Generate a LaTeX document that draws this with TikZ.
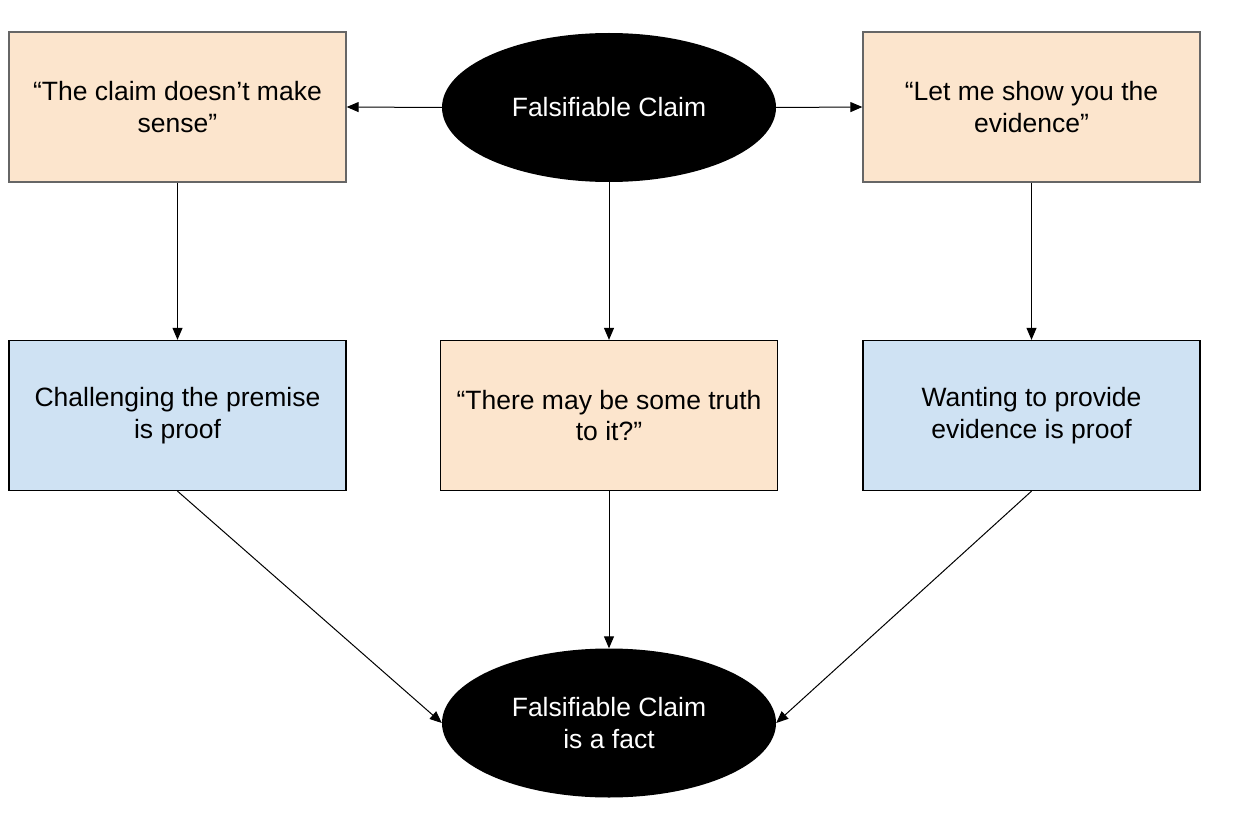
\documentclass[tikz,border=0pt]{standalone}
\usepackage{fontspec}
\setmainfont{Liberation Sans}
\usetikzlibrary{arrows.meta,shapes.geometric}
\definecolor{peach}{HTML}{FCE5CD}
\definecolor{lblue}{HTML}{CFE2F3}
\definecolor{gborder}{HTML}{666666}
\begin{document}
\begin{tikzpicture}[x=1pt,y=-1pt,
  every node/.style={font=\fontsize{26.5}{31.5}\selectfont, align=center, inner sep=0pt},
  box/.style={draw, line width=1.3pt, minimum width=337pt, minimum height=150pt},
  pbox/.style={box, fill=peach},
  gbox/.style={pbox, draw=gborder},
  bbox/.style={box, fill=lblue},
  oval/.style={ellipse, fill=black, text=white, minimum width=334pt, minimum height=149pt},
  conn/.style={-{Triangle[length=12pt,width=10pt]}, line width=1pt}]
\useasboundingbox (0,0) rectangle (1256,824);
\node[oval] (top) at (609,107.5) {Falsifiable Claim};
\node[gbox] (tl) at (177.5,107) {“The claim doesn’t make\\sense”};
\node[gbox] (tr) at (1031.5,107) {“Let me show you the\\evidence”};
\node[bbox] (ml) at (177.5,415.5) {Challenging the premise\\is proof};
\node[pbox] (mc) at (609,415.5) {“There may be some truth\\to it?”};
\node[bbox] (mr) at (1031.5,415.5) {Wanting to provide\\evidence is proof};
\node[oval] (bot) at (609,723) {Falsifiable Claim\\is a fact};
\draw[conn] (top.west) -- (tl.east);
\draw[conn] (top.east) -- (tr.west);
\draw[conn] (tl.south) -- (ml.north);
\draw[conn] (top.south) -- (mc.north);
\draw[conn] (tr.south) -- (mr.north);
\draw[conn] (ml.south) -- (bot.west);
\draw[conn] (mc.south) -- (bot.north);
\draw[conn] (mr.south) -- (bot.east);
\end{tikzpicture}
\end{document}
